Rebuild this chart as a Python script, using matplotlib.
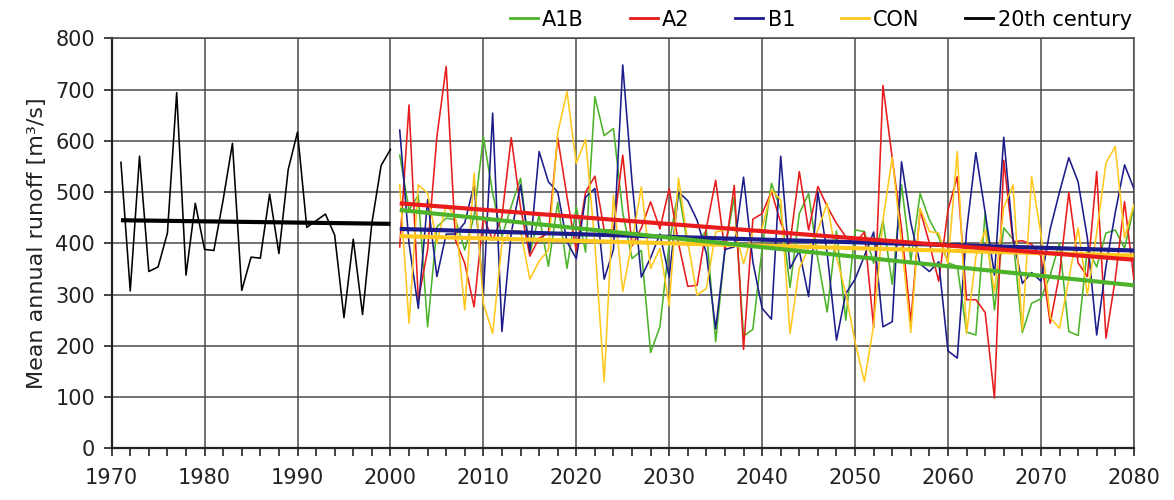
import matplotlib
matplotlib.use("Agg")
import matplotlib.pyplot as plt
from matplotlib.ticker import MultipleLocator

plt.rcParams["font.family"] = ["DejaVu Sans"]

# Observed runoff, 20th century
years_20c = list(range(1971, 2001))
runoff_20c = [558, 307, 570, 345, 354, 420, 694, 338, 478, 388,
              386, 485, 595, 308, 373, 371, 496, 380, 544, 617,
              431, 444, 457, 416, 255, 408, 261, 439, 552, 583]

# Scenario runs 2001-2080
years_scen = list(range(2001, 2081))
a1b = [572, 465, 494, 237, 432, 449, 446, 387, 452, 608,
       498, 413, 472, 527, 380, 455, 355, 480, 351, 471,
       383, 686, 610, 624, 460, 370, 386, 187, 237, 400,
       504, 395, 400, 425, 208, 388, 490, 219, 232, 390,
       517, 466, 314, 458, 497, 368, 266, 424, 250, 426,
       423, 361, 445, 320, 514, 366, 497, 446, 412, 362,
       355, 227, 221, 460, 270, 430, 408, 226, 283, 292,
       338, 400, 228, 220, 390, 354, 420, 426, 390, 471]
a2 = [393, 670, 289, 387, 608, 745, 406, 361, 276, 452,
      406, 452, 606, 470, 375, 410, 420, 606, 491, 385,
      500, 531, 426, 426, 572, 395, 430, 481, 428, 507,
      400, 316, 318, 430, 523, 385, 513, 193, 447, 458,
      501, 440, 400, 540, 426, 511, 472, 439, 413, 400,
      422, 236, 708, 566, 429, 247, 465, 400, 326, 465,
      530, 290, 290, 265, 98, 562, 403, 405, 398, 375,
      244, 340, 499, 362, 335, 540, 215, 330, 481, 330]
b1 = [621, 400, 273, 485, 335, 418, 418, 440, 514, 299,
      654, 228, 420, 514, 383, 579, 520, 500, 403, 370,
      490, 507, 330, 388, 748, 520, 334, 372, 418, 334,
      500, 483, 445, 380, 233, 388, 393, 529, 364, 273,
      252, 570, 351, 385, 296, 500, 380, 211, 302, 330,
      375, 422, 237, 247, 559, 440, 360, 345, 364, 190,
      176, 424, 577, 460, 338, 607, 410, 322, 343, 326,
      428, 500, 567, 520, 410, 221, 355, 460, 553, 507]
con = [514, 244, 514, 498, 400, 475, 452, 270, 537, 283,
       224, 400, 425, 424, 330, 365, 387, 615, 696, 556,
       603, 400, 130, 494, 306, 402, 510, 351, 390, 278,
       527, 402, 299, 312, 422, 426, 432, 360, 423, 429,
       504, 485, 224, 351, 390, 426, 478, 374, 302, 208,
       130, 240, 445, 568, 400, 226, 468, 423, 420, 361,
       579, 224, 374, 426, 305, 470, 514, 230, 530, 418,
       255, 234, 330, 430, 300, 420, 557, 589, 410, 475]

# Linear trends: values at the first and last year of each period
trend_20c = [445, 438]
trend_a1b = [465, 318]
trend_a2 = [478, 368]
trend_b1 = [428, 386]
trend_con = [414, 376]

labels = ["A1B", "A2", "B1", "CON", "20th century"]
colors = ["#4db32a", "#e81c1c", "#1c1c8a", "#ffc81e", "#000000"]

fig = plt.figure(figsize=(11.74, 5.0), dpi=100)
ax = fig.add_axes([0.0951, 0.1034, 0.8707, 0.82])

series = [a1b, a2, b1, con]
handles = []
for vals, col, lab in zip(series, colors[:4], labels[:4]):
    h, = ax.plot(years_scen, vals, color=col, lw=1.15, label=lab, zorder=3)
    handles.append(h)
h, = ax.plot(years_20c, runoff_20c, color="black", lw=1.15, label=labels[4], zorder=3)
handles.append(h)

ends_scen = [years_scen[0], years_scen[-1]]
ends_20c = [years_20c[0], years_20c[-1]]
for tr, col in zip([trend_con, trend_b1, trend_a1b, trend_a2], [colors[3], colors[2], colors[0], colors[1]]):
    ax.plot(ends_scen, tr, color=col, lw=3.0, zorder=4, solid_capstyle="butt")
ax.plot(ends_20c, trend_20c, color="black", lw=3.0, zorder=4, solid_capstyle="butt")

ax.set_xlim(1970, 2080)
ax.set_ylim(0, 800)
ax.xaxis.set_major_locator(MultipleLocator(10))
ax.xaxis.set_minor_locator(MultipleLocator(2))
ax.yaxis.set_major_locator(MultipleLocator(100))
ax.grid(True, which="major", color="#4a4a4a", lw=1.1, zorder=1)
ax.set_axisbelow(True)
for side in ["top", "right"]:
    ax.spines[side].set_color("#4a4a4a")
    ax.spines[side].set_linewidth(1.1)
for side in ["left", "bottom"]:
    ax.spines[side].set_color("#222222")
    ax.spines[side].set_linewidth(1.6)
ax.tick_params(axis="both", which="major", direction="out", length=6, width=1.2,
               labelsize=15, colors="#222222", pad=6)
ax.tick_params(axis="x", which="minor", direction="out", length=6, width=1.2, colors="#222222")
ax.tick_params(axis="x", which="major", pad=8)
ax.set_ylabel("Mean annual runoff [m³/s]", fontsize=16, color="#222222", labelpad=6)

leg = fig.legend(handles=handles, labels=labels, loc="upper right", bbox_to_anchor=(0.98, 1.018),
                 ncol=5, frameon=False, fontsize=15, handlelength=1.35, handletextpad=0.2,
                 columnspacing=2.2)
for line in leg.get_lines():
    line.set_linewidth(2.0)

fig.savefig("out.png", dpi=100)
